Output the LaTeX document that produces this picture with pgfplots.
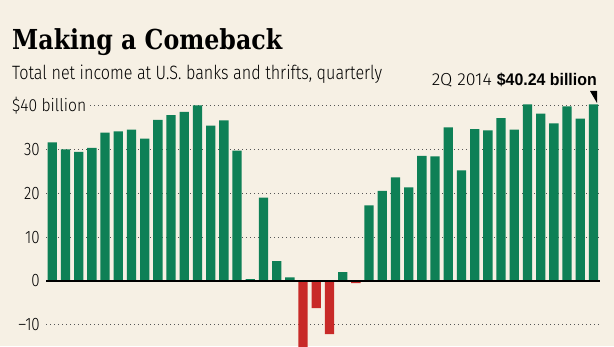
\documentclass[border=0pt]{standalone}
\usepackage{fontspec}
\usepackage{graphicx}
\usepackage{pgfplots}
\pgfplotsset{compat=1.18}
\setmainfont{Liberation Sans}
\newfontfamily\cond[FakeStretch=0.84]{Fira Sans Light}
\newfontfamily\titlefont{DejaVu Serif}
\definecolor{bg}{RGB}{246,240,228}
\definecolor{wsjgreen}{RGB}{14,128,86}
\definecolor{wsjred}{RGB}{200,42,40}
\definecolor{gridc}{RGB}{85,85,85}
\begin{document}
\begin{tikzpicture}[x=1pt,y=1pt]
\useasboundingbox (0,0) rectangle (614,346);
\fill[bg] (0,0) rectangle (614,346);
\begin{axis}[at={(46pt,0pt)}, anchor=south west, scale only axis,
  width=555pt, height=249.4pt,
  xmin=0.523, xmax=42.57, ymin=-14.81, ymax=42,
  axis line style={draw=none}, xtick=\empty,
  ytick={-10,0,10,20,30,40}, yticklabels={–10,0,10,20,30,{}},
  major tick length=0pt, ymajorgrids,
  grid style={gridc, line width=0.9pt, dash pattern=on 0.9pt off 3.1pt},
  yticklabel style={font=\cond\fontsize{18}{18}\selectfont, anchor=east, inner sep=0pt, xshift=-6pt},
  ybar, bar width=9.3pt, bar shift=0pt]
\addplot[fill=wsjgreen, draw=none] coordinates {
(1,31.6) (2,30.0) (3,29.4) (4,30.3) (5,33.8) (6,34.1) (7,34.5) (8,32.4)
(9,36.7) (10,37.8) (11,38.5) (12,40.0) (13,35.4) (14,36.6) (15,29.7) (16,0.4)
(17,19.0) (18,4.5) (19,0.8) (23,2.0) (25,17.2) (26,20.5) (27,23.6) (28,21.3)
(29,28.5) (30,28.4) (31,35.0) (32,25.2) (33,34.6) (34,34.3) (35,37.1) (36,34.5)
(37,40.2) (38,38.1) (39,35.9) (40,39.8) (41,37.0) (42,40.24)};
\addplot[fill=wsjred, draw=none] coordinates {
(20,-32.1) (21,-6.2) (22,-12.1) (24,-0.5)};
\addplot[sharp plot, black, line width=1.8pt] coordinates {(0.523,0) (42.5,0)};
\end{axis}
\node[anchor=base west, inner sep=0pt] at (12,296) {\resizebox{270pt}{\height}{\titlefont\bfseries\fontsize{27.5}{27.5}\selectfont Making a Comeback}};
\node[anchor=base west, inner sep=0pt] at (12,266) {\resizebox{370pt}{\height}{\cond\fontsize{19.3}{19.3}\selectfont Total net income at U.S. banks and thrifts, quarterly}};
\node[anchor=base east, inner sep=0pt] at (597,260) {\resizebox{60pt}{\height}{\cond\fontsize{17.4}{17.4}\selectfont 2Q 2014}\hspace{5pt}\resizebox{100pt}{\height}{\bfseries\fontsize{16.8}{16.8}\selectfont \$40.24 billion}};
\fill[bg] (44,237) rectangle (89,245);
\node[anchor=base west, inner sep=0pt] at (12,234.5) {\resizebox{74pt}{\height}{\cond\fontsize{17.5}{17.5}\selectfont \$40 billion}};
\fill[black] (590,255) -- (597,255) -- (597,243) -- cycle;
\end{tikzpicture}
\end{document}
